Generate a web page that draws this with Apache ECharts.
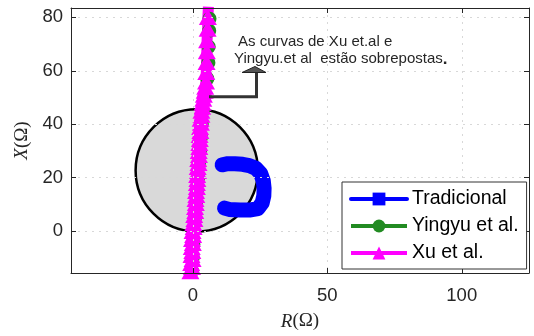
<!DOCTYPE html>
<html>
<head>
<meta charset="utf-8">
<script src="https://cdn.jsdelivr.net/npm/echarts@6/dist/echarts.min.js"></script>
<style>
html,body{margin:0;padding:0;background:#fff;}
#chart{width:534px;height:336px;}
</style>
</head>
<body>
<div id="chart"></div>
<script>
// ---- data (R, X in ohms) ----
const xTicks = [0, 50, 100];
const yTicks = [0, 20, 40, 60, 80];
const seriesNames = ['Tradicional', 'Yingyu et al.', 'Xu et al.'];

const tradicional = [
  [10.9, 24.8], [13.0, 25.2], [15.6, 25.2], [18.5, 25.0], [21.0, 24.5], [23.4, 23.5], [25.2, 21.6],
  [26.2, 18.8], [26.5, 16.0], [26.4, 13.2], [25.8, 10.6], [24.2, 8.4], [21.5, 7.9], [17.5, 7.9], [13.5, 8.1], [11.8, 8.6]
];

const yingyu = [
  [-0.3, -15], [0.0, -10], [0.2, -5], [0.4, 0], [0.8, 5], [1.2, 10], [1.6, 15],
  [2.0, 20], [2.3, 25], [2.7, 30], [3.0, 35], [3.3, 40], [3.7, 45], [4.3, 50],
  [5.4, 57], [5.8, 63], [5.9, 69], [6.1, 75], [6.2, 79.5]
];

const xu = [
  [-0.9, -15], [-0.3, -13.5], [-0.6, -12], [-0.1, -10.5], [-0.5, -9], [-0.2, -7.5],
  [-0.4, -6], [0.0, -4.5], [-0.3, -3], [0.1, -1.5], [-0.1, 0], [0.3, 1.5], [0.2, 3],
  [0.6, 4.5], [0.5, 6], [0.9, 7.5], [0.8, 9], [1.1, 10.5], [1.0, 12], [1.3, 13.5],
  [1.2, 15], [1.5, 16.5], [1.5, 18], [1.7, 19.5], [1.6, 21], [1.9, 22.5], [1.8, 24],
  [2.1, 25.5], [2.0, 27], [2.3, 28.5], [2.2, 30], [2.4, 31.5], [2.4, 33], [2.6, 34.5],
  [2.5, 36], [2.8, 37.5], [2.7, 39], [3.0, 40.5], [2.9, 42], [3.2, 43.5], [3.2, 45],
  [3.5, 46.5], [3.6, 48], [3.9, 49.5], [4.1, 51], [4.4, 52.5], [4.6, 54], [4.9, 56],
  [5.0, 59.5], [5.1, 63.3], [5.2, 67.3], [5.3, 71.4], [5.5, 75.7], [5.6, 80.1], [5.8, 84]
];

const mhoCircle = [[1.45, 22.7, 22.8]]; // centre R, centre X, radius
const lineImpedance = [[-0.4, -0.2], [3.7, 53.3]];

const annotationLines = ['As curvas de Xu et.al e', 'Yingyu.et al  estão sobrepostas'];

// ---- chart ----
const axisColor = '#262626';
const fontSans = 'Liberation Sans, Arial, Helvetica, sans-serif';
const fontSerif = 'Liberation Serif, Times New Roman, serif';
const nameRich = {
  i: {fontStyle: 'italic', fontFamily: fontSerif, fontSize: 19, color: axisColor},
  n: {fontFamily: fontSerif, fontSize: 19, color: axisColor}
};
const XMIN = -45.3, XMAX = 125, YMIN = -15.7, YMAX = 83.5;

const chart = echarts.init(document.getElementById('chart'), null, {renderer: 'canvas'});

function circleItem(fill, stroke, lw) {
  return function (params, api) {
    const c = api.coord([api.value(0), api.value(1)]);
    const s = api.size([api.value(2), api.value(2)]);
    const r = (s[0] + s[1]) / 2;
    return {
      type: 'circle',
      shape: {cx: c[0], cy: c[1], r: r},
      style: {fill: fill, stroke: stroke, lineWidth: lw}
    };
  };
}

const option = {
  animation: false,
  backgroundColor: '#fff',
  grid: {left: 71, right: 5, top: 8, bottom: 63, containLabel: false},
  xAxis: [{
    type: 'value', min: XMIN, max: XMAX, position: 'bottom', z: 3,
    axisLine: {show: true, onZero: false, lineStyle: {color: axisColor, width: 1}},
    axisTick: {show: true, inside: true, length: 5, customValues: xTicks, lineStyle: {color: axisColor}},
    axisLabel: {show: true, customValues: xTicks, fontSize: 18.5, color: axisColor, margin: 13, fontFamily: fontSans},
    splitLine: {show: true, lineStyle: {type: [2, 5], color: '#d8d8d8', width: 1}},
    name: '{i|R}{n|(Ω)}', nameLocation: 'middle', nameGap: 39,
    nameTextStyle: {rich: nameRich}
  }, {
    type: 'value', min: XMIN, max: XMAX, position: 'top', z: 3,
    axisLine: {show: true, onZero: false, lineStyle: {color: axisColor, width: 1}},
    axisTick: {show: true, inside: true, length: 5, customValues: xTicks, lineStyle: {color: axisColor}},
    axisLabel: {show: false}, splitLine: {show: false}
  }],
  yAxis: [{
    type: 'value', min: YMIN, max: YMAX, position: 'left', z: 3,
    axisLine: {show: true, onZero: false, lineStyle: {color: axisColor, width: 1}},
    axisTick: {show: true, inside: true, length: 5, customValues: yTicks, lineStyle: {color: axisColor}},
    axisLabel: {show: true, customValues: yTicks, fontSize: 18.5, color: axisColor, margin: 8, fontFamily: fontSans},
    splitLine: {show: true, lineStyle: {type: [2, 5], color: '#d8d8d8', width: 1}},
    name: '{i|X}{n|(Ω)}', nameLocation: 'middle', nameGap: 39, nameRotate: 90,
    nameTextStyle: {rich: nameRich}
  }, {
    type: 'value', min: YMIN, max: YMAX, position: 'right', z: 3,
    axisLine: {show: true, onZero: false, lineStyle: {color: axisColor, width: 1}},
    axisTick: {show: true, inside: true, length: 5, customValues: yTicks, lineStyle: {color: axisColor}},
    axisLabel: {show: false}, splitLine: {show: false}
  }],
  legend: {
    orient: 'vertical', left: 342, top: 182, z: 10,
    padding: [7, 8, 6, 7], itemWidth: 56, itemHeight: 16, itemGap: 7,
    backgroundColor: '#fff', borderColor: '#333', borderWidth: 1, borderRadius: 0,
    textStyle: {fontSize: 19.5, color: '#000', fontFamily: fontSans, lineHeight: 20},
    lineStyle: {width: 4},
    data: seriesNames
  },
  series: [
    {
      type: 'custom', name: 'mhoFill', data: mhoCircle, encode: {x: 0, y: 1},
      renderItem: circleItem('#d9d9d9', null, 0), silent: true, z: 1
    },
    {
      type: 'line', name: seriesNames[0], data: tradicional, z: 2,
      color: '#0000ff', symbol: 'rect', symbolSize: 9, showSymbol: true,
      lineStyle: {width: 15, color: '#0000ff', join: 'round', cap: 'round'},
      itemStyle: {color: '#0000ff'}
    },
    {
      type: 'custom', name: 'mhoBorder', data: mhoCircle, encode: {x: 0, y: 1},
      renderItem: circleItem('none', '#000', 2.5), silent: true, z: 2
    },
    {
      type: 'line', name: seriesNames[1], data: yingyu, z: 2,
      color: '#228b22', symbol: 'circle', symbolSize: 14,
      lineStyle: {width: 6, color: '#228b22'},
      itemStyle: {color: '#228b22'}
    },
    {
      type: 'line', name: seriesNames[2], data: xu, z: 2,
      color: '#ff00ff', symbol: 'triangle', symbolSize: [18, 16],
      lineStyle: {width: 11, color: '#ff00ff'},
      itemStyle: {color: '#ff00ff'}
    },
    {
      type: 'line', name: 'impedance', data: lineImpedance, z: 2,
      symbol: 'none', lineStyle: {width: 5, color: '#000'}, silent: true
    }
  ],
  graphic: [
    {
      type: 'polyline', z: 20,
      shape: {points: [[209, 96.7], [256.5, 96.7], [256.5, 72]]},
      style: {stroke: '#333', lineWidth: 3, fill: null}
    },
    {
      type: 'polygon', z: 20,
      shape: {points: [[242, 72.5], [266, 72.5], [255, 66.5]]},
      style: {fill: '#555', stroke: '#222', lineWidth: 1}
    },
    {
      type: 'text', z: 20, x: 238, y: 42,
      style: {text: annotationLines[0], fontSize: 15, fontFamily: fontSans, fill: '#262626', verticalAlign: 'middle'}
    },
    {
      type: 'text', z: 20, x: 234, y: 59,
      style: {
        text: annotationLines[1] + '{b|.}', fontSize: 15, fontFamily: fontSans, fill: '#262626', verticalAlign: 'middle',
        rich: {b: {fontSize: 17, fontWeight: 'bold', fill: '#262626', fontFamily: fontSans}}
      }
    }
  ]
};
chart.setOption(option);
</script>
</body>
</html>
